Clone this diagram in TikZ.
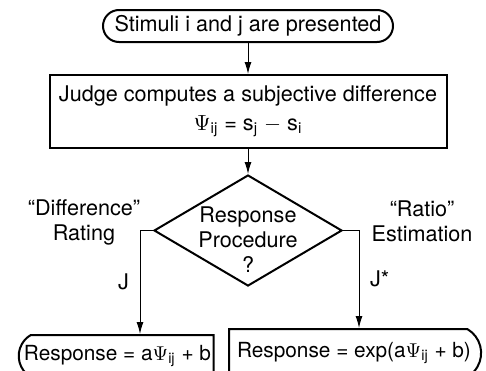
\documentclass[tikz,border=0pt]{standalone}
\usepackage{amsmath}
\usepackage{fontspec}
\setmainfont{TeX Gyre Heros}
\usetikzlibrary{arrows.meta,positioning,calc,shapes.geometric,shapes.misc}

\begin{document}
\begin{tikzpicture}[x=0.5pt,y=-0.5pt,>={Latex[length=6pt,width=3.5pt]},
  font=\fontsize{10.8}{12.5}\selectfont,
  term/.style={draw,line width=1pt,rounded rectangle,inner sep=0pt},
  outbox/.style={term,rounded rectangle arc length=120,font=\fontsize{10.4}{12.5}\selectfont},
  procbox/.style={draw,line width=1pt,rectangle,inner sep=0pt,align=center},
  decide/.style={draw,line width=1pt,diamond,inner sep=0pt},
  flow/.style={->,line width=0.5pt}]
\useasboundingbox (0,0) rectangle (486,370);
\node[term,minimum width=145pt,minimum height=16pt] (start) at (248,26) {Stimuli i and j are presented};
\node[procbox,minimum width=198.5pt,minimum height=36.5pt] (judge) at (248,111.5)
  {Judge computes a subjective difference\\[2pt]$\Psi_{\text{ij}}$ = s$_{\text{j}}$ $-$ s$_{\text{i}}$};
\node[decide,minimum width=94pt,minimum height=55.5pt] (resp) at (248,230.5) {};
\node[align=center] (resptxt) at (248,240) {Response\\Procedure\\?};
\node[outbox,rounded rectangle right arc=none,minimum width=97.5pt,minimum height=21pt] (lres) at (117.5,356)
  {Response = a$\Psi_{\text{ij}}$ + b};
\node[outbox,rounded rectangle left arc=none,minimum width=126pt,minimum height=24pt] (rres) at (354,353)
  {Response = exp(a$\Psi_{\text{ij}}$ + b)};
% side labels
\node[align=center] (difflbl) at (84,222) {``Difference''\\Rating};
\node[align=center] (ratiolbl) at (422,221) {``Ratio''\\Estimation};
\coordinate (lbend) at (140,0);
\coordinate (rbend) at (359,0);
\draw[flow] (start) -- (judge);
\draw[flow] (judge) -- (resp);
\draw[flow] (resp.west) -| (lbend |- lres.north) node[pos=0.75,left=2pt] (jlbl) {J};
\draw[flow] (resp.east) -| (rbend |- rres.north) node[pos=0.75,right=2pt] (jslbl) {J*};
\end{tikzpicture}
\end{document}
